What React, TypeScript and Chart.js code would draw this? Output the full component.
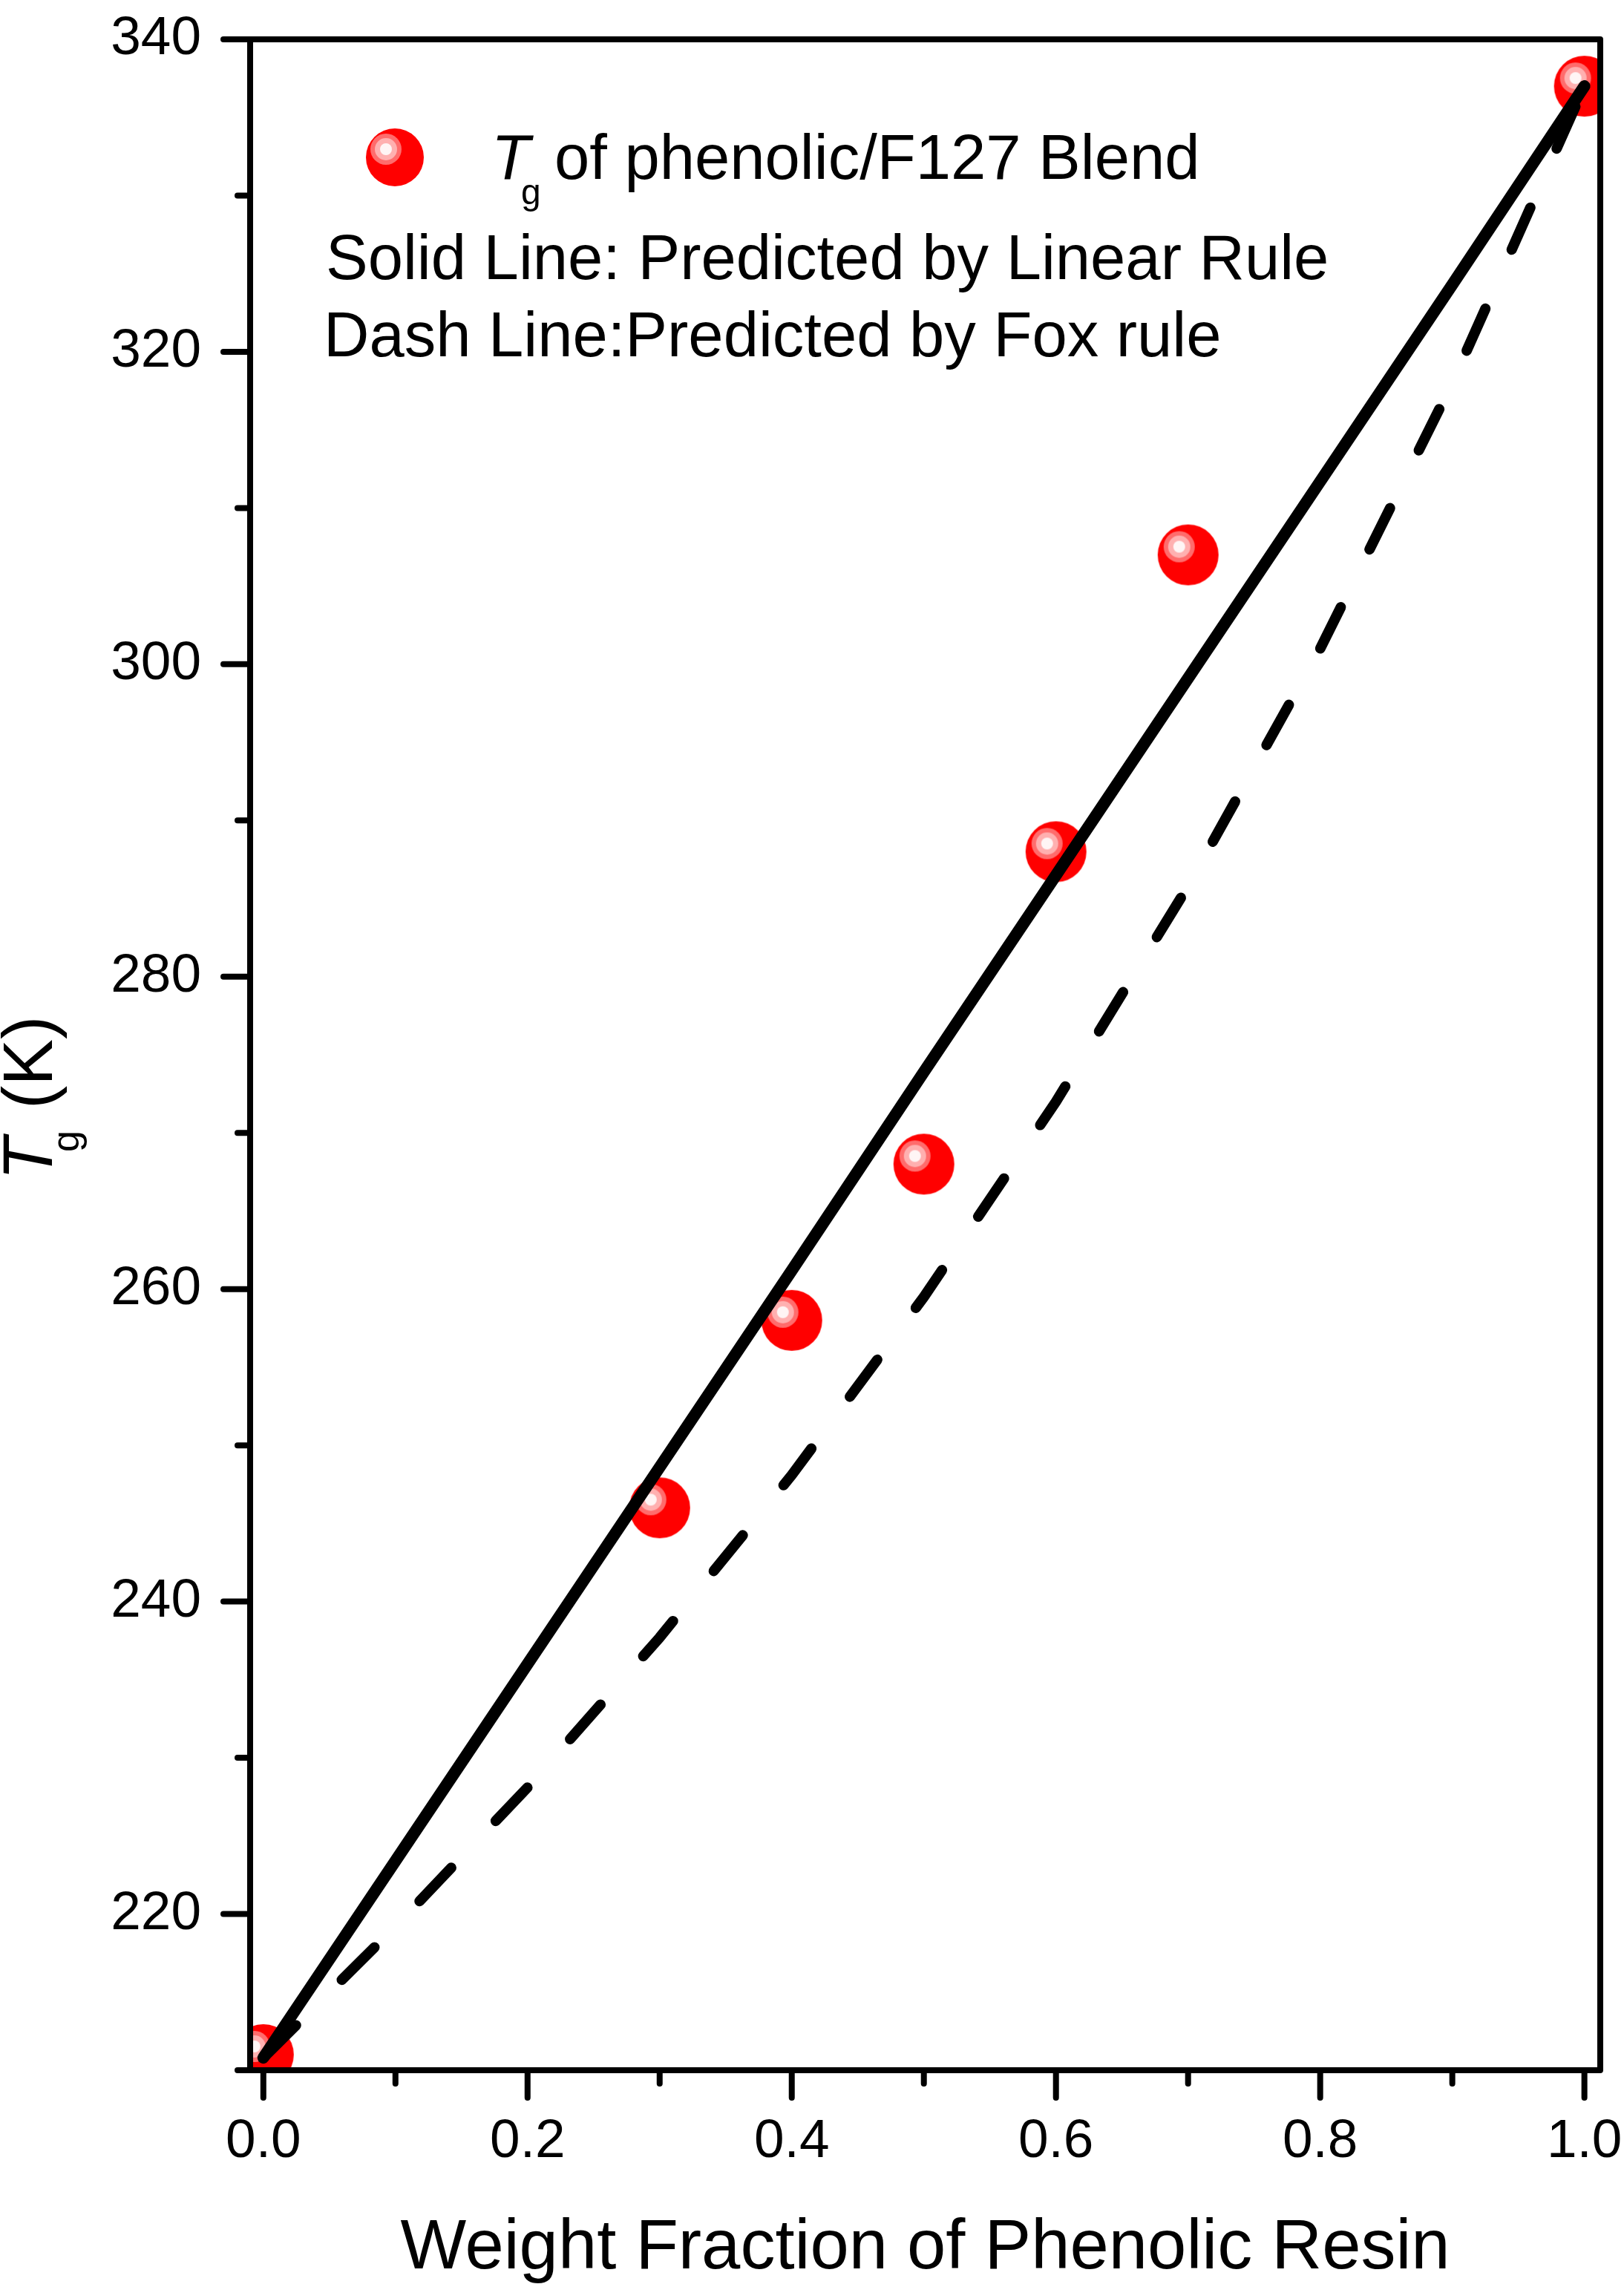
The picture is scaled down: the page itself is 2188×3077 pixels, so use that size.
import React, { useEffect, useRef } from 'react';
import { Chart, registerables } from 'chart.js';

Chart.register(...registerables);

// ---- data ----
const BLEND_X = [0.0, 0.3, 0.4, 0.5, 0.6, 0.7, 1.0];
const BLEND_TG = [211, 246, 258, 268, 288, 307, 337];

const RULE_X = [0, 0.1, 0.2, 0.3, 0.4, 0.5, 0.6, 0.7, 0.8, 0.9, 1.0];
const LINEAR_TG = [210.8, 223.4, 236.0, 248.6, 261.2, 273.9, 286.5, 299.1, 311.7, 324.3, 337];
const FOX_TG = [210.8, 219.2, 228.1, 237.7, 248.1, 259.5, 272.0, 285.8, 301.0, 318.0, 337];

const X_MAJOR = [0, 0.2, 0.4, 0.6, 0.8, 1.0];
const X_MINOR = [0.1, 0.3, 0.5, 0.7, 0.9];
const Y_MAJOR = [220, 240, 260, 280, 300, 320, 340];
const Y_MINOR = [210, 230, 250, 270, 290, 310, 330];
const X_RANGE = [-0.01, 1.012];
const Y_RANGE = [210, 340];

const X_TITLE = 'Weight Fraction of Phenolic Resin';
const Y_TITLE_MAIN = 'T';
const Y_TITLE_SUB = 'g';
const Y_TITLE_REST = '(K)';
const LEGEND_MAIN = 'T';
const LEGEND_SUB = 'g';
const LEGEND_REST = 'of phenolic/F127 Blend';
const NOTE_SOLID = 'Solid Line: Predicted by Linear Rule';
const NOTE_DASH = 'Dash Line:Predicted by Fox rule';

const FONT = "'Liberation Sans', Arial, Helvetica, sans-serif";
const W = 2188;
const H = 3077;

function makeSphere(r: number): HTMLCanvasElement {
  const c = document.createElement('canvas');
  const s = Math.ceil(2 * r) + 2;
  c.width = s;
  c.height = s;
  const g = c.getContext('2d')!;
  const cx = s / 2;
  const cy = s / 2;
  g.beginPath();
  g.arc(cx, cy, r, 0, Math.PI * 2);
  g.fillStyle = '#ff0000';
  g.fill();
  g.save();
  g.clip();
  const hx = cx - 12;
  const hy = cy - 11;
  const rings: [number, string][] = [
    [21, '#ff6c6c'],
    [15, '#ffb0b0'],
    [8, '#fff5f5'],
  ];
  rings.forEach(([rr, col]) => {
    g.beginPath();
    g.arc(hx, hy, rr, 0, Math.PI * 2);
    g.fillStyle = col;
    g.fill();
  });
  g.restore();
  return c;
}

export default function App() {
  const ref = useRef<HTMLCanvasElement | null>(null);

  useEffect(() => {
    const canvas = ref.current;
    if (!canvas) return;
    const sphere = makeSphere(41);
    const legendSphere = makeSphere(39);

    const decor = {
      id: 'decor',
      afterDatasetsDraw(chart: any) {
        const { ctx, chartArea: a, scales } = chart;
        const xs = scales.x;
        const ys = scales.y;
        ctx.save();
        ctx.strokeStyle = '#000';
        ctx.lineWidth = 8;
        ctx.lineCap = 'round';
        const seg = (x1: number, y1: number, x2: number, y2: number) => {
          ctx.beginPath();
          ctx.moveTo(x1, y1);
          ctx.lineTo(x2, y2);
          ctx.stroke();
        };
        X_MAJOR.forEach((v) => {
          const px = xs.getPixelForValue(v);
          seg(px, a.bottom, px, a.bottom + 37);
        });
        X_MINOR.forEach((v) => {
          const px = xs.getPixelForValue(v);
          seg(px, a.bottom, px, a.bottom + 18);
        });
        Y_MAJOR.forEach((v) => {
          const py = ys.getPixelForValue(v);
          seg(a.left, py, a.left - 36, py);
        });
        Y_MINOR.forEach((v) => {
          const py = ys.getPixelForValue(v);
          seg(a.left, py, a.left - 17, py);
        });
        // frame
        ctx.lineCap = 'butt';
        ctx.lineJoin = 'round';
        ctx.strokeRect(a.left, a.top, a.right - a.left, a.bottom - a.top);

        // legend / notes
        const lx = a.left;
        const ty = a.top;
        ctx.drawImage(
          legendSphere,
          lx + 195 - legendSphere.width / 2,
          ty + 159 - legendSphere.height / 2
        );
        ctx.fillStyle = '#000';
        ctx.textBaseline = 'alphabetic';
        ctx.textAlign = 'left';
        ctx.font = `italic 85px ${FONT}`;
        ctx.fillText(LEGEND_MAIN, lx + 325, ty + 188);
        ctx.font = `48px ${FONT}`;
        ctx.fillText(LEGEND_SUB, lx + 365, ty + 222);
        ctx.font = `85px ${FONT}`;
        ctx.fillText(LEGEND_REST, lx + 410, ty + 188);
        ctx.fillText(NOTE_SOLID, lx + 102, ty + 323);
        ctx.fillText(NOTE_DASH, lx + 99, ty + 427);

        // y title (rotated)
        ctx.save();
        ctx.translate(70, 1590);
        ctx.rotate(-Math.PI / 2);
        ctx.font = `italic 94px ${FONT}`;
        ctx.fillText(Y_TITLE_MAIN, 0, 0);
        ctx.font = `52px ${FONT}`;
        ctx.fillText(Y_TITLE_SUB, 38, 36);
        ctx.font = `94px ${FONT}`;
        ctx.fillText(Y_TITLE_REST, 96, 0);
        ctx.restore();

        ctx.restore();
      },
    };

    const chart = new Chart(canvas, {
      type: 'scatter',
      data: {
        datasets: [
          {
            label: 'Linear rule',
            data: RULE_X.map((x, i) => ({ x, y: LINEAR_TG[i] })),
            showLine: true,
            borderColor: '#000',
            borderWidth: 16,
            borderCapStyle: 'round',
            borderJoinStyle: 'round',
            pointRadius: 0,
            fill: false,
            order: 1,
          },
          {
            label: 'Fox rule',
            data: RULE_X.map((x, i) => ({ x, y: FOX_TG[i] })),
            showLine: true,
            borderColor: '#000',
            borderWidth: 14,
            borderDash: [62, 87],
            borderCapStyle: 'round',
            borderJoinStyle: 'round',
            pointRadius: 0,
            fill: false,
            order: 2,
          },
          {
            label: 'Tg of phenolic/F127 Blend',
            data: BLEND_X.map((x, i) => ({ x, y: BLEND_TG[i] })),
            showLine: false,
            pointStyle: sphere as any,
            pointRadius: 41,
            order: 3,
          },
        ],
      },
      options: {
        animation: false,
        responsive: false,
        devicePixelRatio: 1,
        events: [],
        layout: { autoPadding: false, padding: { top: 53, right: 32, left: 0, bottom: 0 } },
        plugins: {
          legend: { display: false },
          tooltip: { enabled: false },
        },
        scales: {
          x: {
            type: 'linear',
            min: X_RANGE[0],
            max: X_RANGE[1],
            afterBuildTicks: (s: any) => {
              s.ticks = X_MAJOR.map((v) => ({ value: v }));
            },
            afterFit: (s: any) => {
              s.height = 288;
              s.paddingLeft = 0;
              s.paddingRight = 0;
            },
            grid: {
              display: true,
              drawOnChartArea: false,
              drawTicks: true,
              tickLength: 41,
              color: 'rgba(0,0,0,0)',
              tickColor: 'rgba(0,0,0,0)',
            },
            border: { display: false },
            ticks: {
              autoSkip: false,
              maxRotation: 0,
              padding: 12,
              color: '#000',
              font: { family: FONT, size: 73 },
              callback: (v: any) => Number(v).toFixed(1),
            },
            title: {
              display: true,
              text: X_TITLE,
              color: '#000',
              font: { family: FONT, size: 94, lineHeight: 1 },
              padding: { top: 0, bottom: 0 },
            },
          },
          y: {
            type: 'linear',
            min: Y_RANGE[0],
            max: Y_RANGE[1],
            afterBuildTicks: (s: any) => {
              s.ticks = Y_MAJOR.map((v) => ({ value: v }));
            },
            afterFit: (s: any) => {
              s.width = 337;
              s.paddingTop = 0;
              s.paddingBottom = 0;
            },
            grid: {
              display: true,
              drawOnChartArea: false,
              drawTicks: true,
              tickLength: 40,
              color: 'rgba(0,0,0,0)',
              tickColor: 'rgba(0,0,0,0)',
            },
            border: { display: false },
            ticks: {
              autoSkip: false,
              padding: 26,
              color: '#000',
              font: { family: FONT, size: 73 },
              callback: (v: any) => String(v),
            },
          },
        },
      },
      plugins: [decor],
    } as any);

    return () => {
      chart.destroy();
    };
  }, []);

  return (
    <div style={{ position: 'absolute', left: 0, top: 0, width: W, height: H, background: '#fff' }}>
      <canvas ref={ref} width={W} height={H} style={{ display: 'block', width: W, height: H }} />
    </div>
  );
}
